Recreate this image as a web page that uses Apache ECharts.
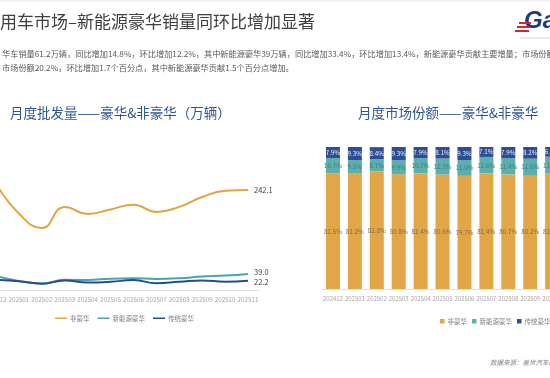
<!DOCTYPE html>
<html>
<head>
<meta charset="utf-8">
<script src="https://cdn.jsdelivr.net/npm/echarts@6/dist/echarts.min.js"></script>
<style>
html,body{margin:0;padding:0;background:#fff;}
#c{width:550px;height:378px;}
</style>
</head>
<body>
<div id="c"></div>
<script>
// ---- data ----
var categories = ['202412','202501','202502','202503','202504','202505','202506','202507','202508','202509','202510','202511'];
var nonLux   = [258, 185, 150, 201, 184, 195, 206, 189, 201, 225, 240, 242.1];
var neLux    = [33.9, 21.7, 15.8, 24.5, 24.3, 27.5, 28.4, 26.9, 28.4, 32.5, 35.0, 39.0];
var tradLux  = [25.0, 21.2, 15.2, 23.0, 18.0, 19.7, 24.0, 16.5, 19.7, 23.0, 20.0, 22.2];
var shareNonLux = [81.5, 81.2, 82.8, 80.8, 81.4, 80.6, 79.7, 81.4, 80.7, 80.2, 81.3, 79.8];
var shareNeLux  = [10.7, 9.5, 8.7, 9.9, 10.7, 11.3, 11.0, 11.6, 11.4, 11.6, 11.9, 12.9];
var shareTrad   = [7.9, 9.3, 8.4, 9.3, 7.9, 8.1, 9.3, 7.1, 7.9, 8.2, 6.8, 7.3];
var seriesNames = ['非豪华', '新能源豪华', '传统豪华'];

var FONT = '"Noto Sans CJK SC", "Noto Sans", sans-serif';
var cOrange = '#E3A440', cTeal = '#45A6AB', cNavy = '#2D4A8E';
var bOrange = '#E3A646', bTeal = '#5BAFAD', bNavy = '#2F4D95';

var chart = echarts.init(document.getElementById('c'), null, {renderer: 'canvas'});

var pctFmt = function (p) { return p.value.toFixed(1) + '%'; };
var numFmt = function (p) { return p.value.toFixed(1); };

var option = {
  backgroundColor: '#ffffff',
  animation: false,
  textStyle: {fontFamily: FONT},
  graphic: [
    {type: 'line', shape: {x1: 0, y1: 1, x2: 550, y2: 1}, style: {stroke: '#e6e6e6', lineWidth: 1}},
    {type: 'text', left: 0, top: 13, style: {text: '用车市场–新能源豪华销量同环比增加显著', fontSize: 17, fill: '#404040', fontFamily: FONT}},
    {type: 'text', left: 2, top: 50, style: {text: '华车销量61.2万辆，同比增加14.8%，环比增加12.2%，其中新能源豪华39万辆，同比增加33.4%，环比增加13.4%，新能源豪华贡献主要增量；市场份额', fontSize: 8.2, fill: '#595959', fontFamily: FONT}},
    {type: 'text', left: 2, top: 64, style: {text: '市场份额20.2%，环比增加1.7个百分点，其中新能源豪华贡献1.5个百分点增加。', fontSize: 8.2, fill: '#595959', fontFamily: FONT}},
    {type: 'text', left: 10, top: 106, style: {text: '月度批发量——豪华&非豪华（万辆）', fontSize: 13.5, fill: '#2F5597', fontFamily: FONT}},
    {type: 'text', left: 358, top: 106, style: {text: '月度市场份额——豪华&非豪华', fontSize: 13.5, fill: '#2F5597', fontFamily: FONT}},
    {type: 'text', left: 490, top: 359, style: {text: '数据来源：盖世汽车研究院', fontSize: 6.5, fill: '#808080', fontStyle: 'italic', fontFamily: FONT}},
    // logo approximation
    {type: 'text', left: 524, top: 9, style: {text: 'Ga', fontSize: 24, fontWeight: 'bold', fontStyle: 'italic', fill: '#1F3B7A', fontFamily: 'Liberation Sans'}},
    {type: 'rect', shape: {x: 519, y: 22, width: 12, height: 2}, style: {fill: '#D7262E'}},
    {type: 'rect', shape: {x: 517, y: 26, width: 12, height: 2}, style: {fill: '#D7262E'}},
    {type: 'rect', shape: {x: 515, y: 30, width: 14, height: 2}, style: {fill: '#D7262E'}},
    {type: 'line', shape: {x1: 520, y1: 38, x2: 550, y2: 38}, style: {stroke: '#d9d9d9', lineWidth: 1}}
  ],
  legend: [
    {
      data: seriesNames,
      left: 50, top: 310,
      icon: 'rect', itemWidth: 12, itemHeight: 1.5, itemGap: 8,
      textStyle: {fontSize: 6.5, color: '#7f7f7f', fontFamily: FONT, padding: [0, 0, 0, -2]},
      seriesIndex: [0, 1, 2]
    },
    {
      data: ['非豪华 ', '新能源豪华 ', '传统豪华 '],
      left: 435, top: 313, width: 200, orient: 'horizontal',
      icon: 'rect', itemWidth: 4.5, itemHeight: 4.5, itemGap: 5,
      textStyle: {fontSize: 6.5, color: '#7f7f7f', fontFamily: FONT, padding: [0, 0, 0, -2]},
      formatter: function (n) { return n.trim(); }
    }
  ],
  grid: [
    {left: -15.5, top: 166, width: 275, height: 124, containLabel: false, outerBoundsMode: 'none'},
    {left: 322, top: 147, width: 263, height: 142, containLabel: false, outerBoundsMode: 'none'}
  ],
  xAxis: [
    {
      type: 'category', gridIndex: 0, data: categories, boundaryGap: true,
      axisLine: {lineStyle: {color: '#e0e0e0', width: 1}},
      axisTick: {show: false},
      axisLabel: {fontSize: 6.3, color: '#a6a6a6', margin: 6, interval: 0, fontFamily: FONT}
    },
    {
      type: 'category', gridIndex: 1, data: categories, boundaryGap: true,
      axisLine: {lineStyle: {color: '#e0e0e0', width: 1}},
      axisTick: {show: false},
      axisLabel: {fontSize: 6, color: '#a6a6a6', margin: 7, interval: 0, fontFamily: FONT}
    }
  ],
  yAxis: [
    {type: 'value', gridIndex: 0, min: 0, max: 300, show: false, splitLine: {show: false}},
    {type: 'value', gridIndex: 1, min: 0, max: 100, show: false, splitLine: {show: false}}
  ],
  series: [
    {
      name: seriesNames[0], type: 'line', xAxisIndex: 0, yAxisIndex: 0, data: nonLux,
      smooth: 0.5, showSymbol: false, lineStyle: {color: cOrange, width: 2}, itemStyle: {color: cOrange},
      endLabel: {show: true, formatter: numFmt, fontSize: 7.5, color: '#404040', distance: 6, fontFamily: FONT}
    },
    {
      name: seriesNames[1], type: 'line', xAxisIndex: 0, yAxisIndex: 0, data: neLux,
      smooth: 0.5, showSymbol: false, lineStyle: {color: cTeal, width: 2}, itemStyle: {color: cTeal},
      endLabel: {show: true, formatter: numFmt, fontSize: 7.5, color: '#404040', distance: 6, offset: [0, -2], fontFamily: FONT}
    },
    {
      name: seriesNames[2], type: 'line', xAxisIndex: 0, yAxisIndex: 0, data: tradLux,
      smooth: 0.5, showSymbol: false, lineStyle: {color: cNavy, width: 2}, itemStyle: {color: cNavy},
      endLabel: {show: true, formatter: numFmt, fontSize: 7.5, color: '#404040', distance: 6, offset: [0, 1], fontFamily: FONT}
    },
    {
      name: '非豪华 ', type: 'bar', xAxisIndex: 1, yAxisIndex: 1, stack: 'share', data: shareNonLux,
      barWidth: 14, itemStyle: {color: bOrange},
      label: {show: true, position: 'inside', formatter: pctFmt, fontSize: 6.3, color: '#7a6a48', fontFamily: FONT}
    },
    {
      name: '新能源豪华 ', type: 'bar', xAxisIndex: 1, yAxisIndex: 1, stack: 'share', data: shareNeLux,
      barWidth: 14, itemStyle: {color: bTeal},
      label: {show: true, position: 'inside', formatter: pctFmt, fontSize: 6.3, color: '#3f7f80', fontFamily: FONT}
    },
    {
      name: '传统豪华 ', type: 'bar', xAxisIndex: 1, yAxisIndex: 1, stack: 'share', data: shareTrad,
      barWidth: 14, itemStyle: {color: bNavy},
      label: {show: true, position: 'inside', formatter: pctFmt, fontSize: 6.3, color: '#e8edf7', fontFamily: FONT}
    }
  ]
};
chart.setOption(option);
</script>
</body>
</html>
